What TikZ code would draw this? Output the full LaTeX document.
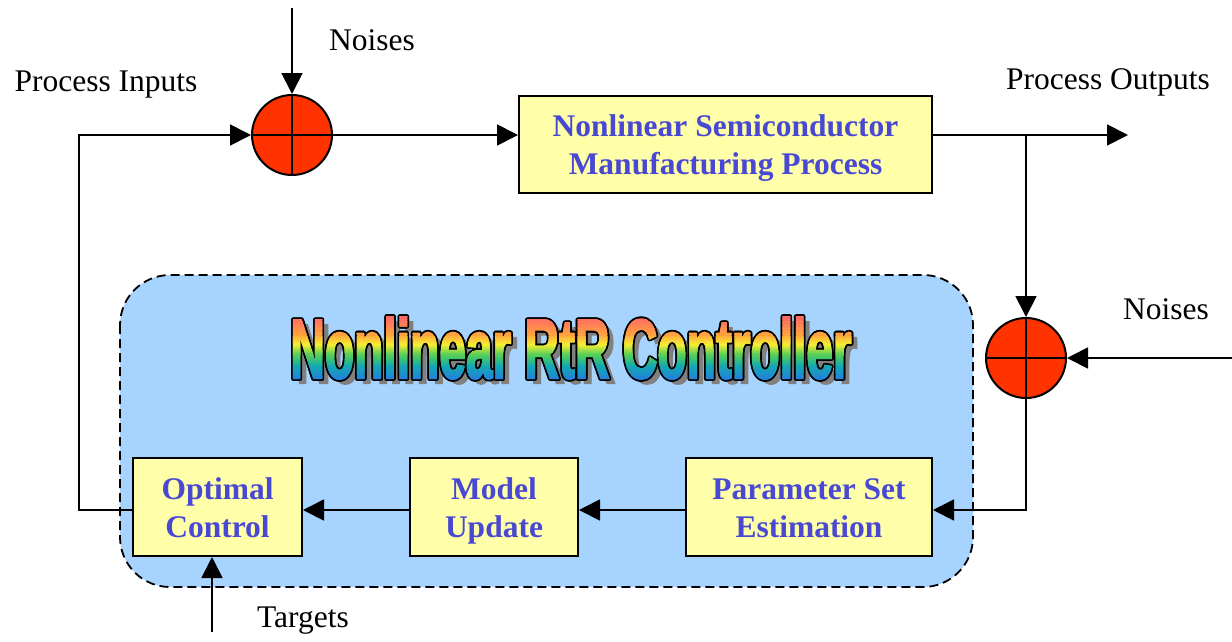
\documentclass[tikz,border=0pt]{standalone}
\usepackage{fontspec}
\setmainfont{Liberation Serif}
\newfontfamily\wordartfont{Liberation Sans Bold}[FakeBold=2.5]
\usetikzlibrary{arrows.meta}

\definecolor{boxyellow}{RGB}{255,255,170}
\definecolor{boxblue}{RGB}{72,72,210}
\definecolor{sumred}{RGB}{255,51,0}
\definecolor{ctrlblue}{RGB}{166,212,255}
\definecolor{shadowgray}{RGB}{128,128,128}
% rainbow stops of the title lettering, top to bottom
\definecolor{wa}{RGB}{255,85,115}
\definecolor{wb}{RGB}{255,165,60}
\definecolor{wc}{RGB}{245,240,50}
\definecolor{wd}{RGB}{80,205,90}
\definecolor{we}{RGB}{20,170,175}
\definecolor{wf}{RGB}{40,115,235}

\newcommand\diagfont{\fontsize{31.5}{38}\selectfont}
\newcommand\titletext{\scalebox{0.57}[1]{\wordartfont\fontsize{84}{84}\selectfont Nonlinear RtR Controller}}
% fixed line extents so two-line block labels sit alike
\newcommand\upstrut{\rule{0pt}{32pt}}
\newcommand\downstrut{\rule[-10pt]{0pt}{10pt}}

\begin{document}
\begin{tikzpicture}[x=1pt,y=-1pt,
  wire/.style={line width=1.8pt},
  arr/.style={wire,-{Triangle[length=21pt,width=21pt]}},
  blockbox/.style={draw=black,line width=2pt,fill=boxyellow,text=boxblue,
    font=\diagfont\bfseries,align=center,inner sep=0pt},
  sumjunction/.style={circle,draw=black,line width=2pt,fill=sumred,
    minimum size=80pt,inner sep=0pt},
  plain/.style={font=\diagfont,inner sep=0pt},
  wordart/.style={anchor=base,inner sep=0pt}]

\useasboundingbox (0,0) rectangle (1232,641);

% controller region
\draw[line width=1.8pt,dash pattern=on 9pt off 5pt,fill=ctrlblue,rounded corners=50pt]
  (120,275) rectangle (973,587);

% title lettering: shadow, outline, rainbow fill
\coordinate (title) at (571,378);
\node[wordart,text=shadowgray] (titleshadow) at (577,383) {\titletext};
\foreach \a in {0,30,...,330}
  \path (title) ++(\a:1.9) node[wordart,text=black] (titleedge) {\titletext};
\foreach \ya/\yb/\ca/\cb in {312/336/wa/wb,336/345/wb/wc,345/356/wc/wd,356/366/wd/we,366/384/we/wf}{
  \foreach \i in {0,...,9}{
    \pgfmathsetmacro\yy{\ya+(\yb-\ya)*\i/10}
    \pgfmathsetmacro\yz{\ya+(\yb-\ya)*(\i+1)/10+0.6}
    \pgfmathtruncatemacro\pc{\i*10+5}
    \colorlet{bandc}{\cb!\pc!\ca}
    \begin{scope}
      \clip (280,\yy) rectangle (870,\yz);
      \node[wordart,text=bandc] (titleband) at (title) {\titletext};
    \end{scope}
  }
}

% blocks
\node[blockbox,minimum width=413pt,minimum height=97pt] (proc) at (725.5,144.5)
  {\upstrut Nonlinear Semiconductor\\Manufacturing Process\downstrut};
\node[blockbox,minimum width=169pt,minimum height=98pt] (oc) at (217.5,507)
  {\upstrut Optimal\\Control\downstrut};
\node[blockbox,minimum width=168pt,minimum height=98pt] (mu) at (494,507)
  {\upstrut Model\\Update\downstrut};
\node[blockbox,minimum width=246pt,minimum height=98pt] (pse) at (809,507)
  {\upstrut Parameter Set\\Estimation\downstrut};

% summing junctions
\node[sumjunction] (j1) at (292,135) {};
\draw[line width=2pt] (j1.north) -- (j1.south) (j1.west) -- (j1.east);
\node[sumjunction] (j2) at (1026,358) {};
\draw[line width=2pt] (j2.north) -- (j2.south) (j2.west) -- (j2.east);

% labels
\node[plain] (lnoise1) at (372,40) {Noises};
\node[plain] (lin) at (106,85) {Process Inputs};
\node[plain] (lout) at (1108,82) {Process Outputs};
\node[plain] (lnoise2) at (1166,309) {Noises};
\node[plain] (ltgt) at (303,621) {Targets};

% free ends
\coordinate (n1) at (292,8);
\coordinate (outend) at (1128,135);
\coordinate (branch) at (1026,135);
\coordinate (n2) at (1232,358);
\coordinate (tgt) at (212,632);

% connectors
\draw[arr] (n1) -- (j1.north);
\draw[arr] (j1.east) -- (j1.east -| proc.west);
\draw[arr] (j1.east -| proc.east) -- (outend);
\draw[arr] (branch) -- (j2.north);
\draw[arr] (n2) -- (j2.east);
\draw[arr] (j2.south) |- ([yshift=-3pt]pse.east);
\draw[arr] ([yshift=-3pt]pse.west) -- ([yshift=-3pt]mu.east);
\draw[arr] ([yshift=-3pt]mu.west) -- ([yshift=-3pt]oc.east);
\draw[arr] ([yshift=-3pt]oc.west) -- ++(-53,0) |- (j1.west);
\draw[arr] (tgt) -- (tgt |- oc.south);
\end{tikzpicture}
\end{document}
